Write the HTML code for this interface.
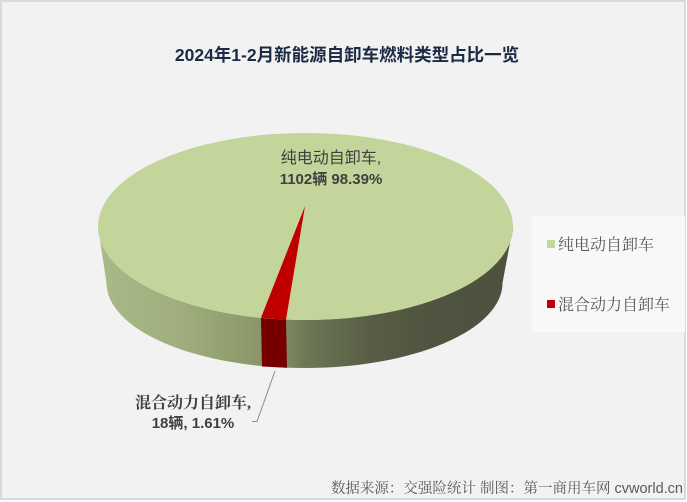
<!DOCTYPE html>
<html>
<head>
<meta charset="utf-8">
<style>
  html, body { margin:0; padding:0; background:#ffffff; }
  body { width:687px; height:502px; overflow:hidden; position:relative; }
  svg { position:absolute; left:0; top:0; }
</style>
</head>
<body>
<svg width="687" height="502" viewBox="0 0 687 502" xmlns="http://www.w3.org/2000/svg">
  <defs>
    <linearGradient id="side" gradientUnits="userSpaceOnUse" x1="98" y1="0" x2="513" y2="0">
      <stop offset="0" stop-color="#aab988"/>
      <stop offset="0.2" stop-color="#9fae7c"/>
      <stop offset="0.38" stop-color="#8c976a"/>
      <stop offset="0.46" stop-color="#7c8660"/>
      <stop offset="0.5" stop-color="#6e7756"/>
      <stop offset="0.66" stop-color="#575d45"/>
      <stop offset="0.8" stop-color="#4f5440"/>
      <stop offset="1" stop-color="#4d523f"/>
    </linearGradient>
  </defs>
  <!-- background with border -->
  <rect x="1" y="1" width="684" height="498" fill="#f2f2f2" stroke="#d9d9d9" stroke-width="2"/>

  <!-- title -->
  <text x="347" y="61" text-anchor="middle" font-family="'Liberation Sans','Noto Sans CJK SC',sans-serif" font-size="17.5" font-weight="bold" fill="#1c2b45">2024年1-2月新能源自卸车燃料类型占比一览</text>

  <!-- pie side -->
  <path d="M98,226.5 L106.5,283 A198,85 0 0 0 502.5,283 L513,226.5 A207.5,93.5 0 0 1 98,226.5 Z" fill="url(#side)"/>
  <!-- red side -->
  <path d="M261,317.8 L286,319.6 L287,367.7 L262,366.5 Z" fill="#760000"/>
  <!-- top face -->
  <ellipse cx="305.5" cy="226.5" rx="207.5" ry="93.5" fill="#c3d59b"/>
  <!-- red slice top -->
  <path d="M305,206 L261,317.8 A207.5,93.5 0 0 0 286,319.6 Z" fill="#c00000"/>

  <!-- top label -->
  <text x="331" y="163" text-anchor="middle" font-family="'Liberation Sans','Noto Sans CJK SC',sans-serif" font-size="16" fill="#404040">纯电动自卸车,</text>
  <text x="331" y="184" text-anchor="middle" font-family="'Liberation Sans','Noto Sans CJK SC',sans-serif" font-size="15" font-weight="bold" fill="#404040">1102辆 98.39%</text>

  <!-- leader line -->
  <polyline points="252,421.5 257,421.5 275,371" fill="none" stroke="#8c8c8c" stroke-width="1"/>

  <!-- bottom label -->
  <text x="193" y="408" text-anchor="middle" font-family="'Liberation Serif','Noto Serif CJK SC',serif" font-size="16" font-weight="bold" fill="#404040">混合动力自卸车,</text>
  <text x="193" y="428" text-anchor="middle" font-family="'Liberation Sans','Noto Sans CJK SC',sans-serif" font-size="15" font-weight="bold" fill="#404040">18辆, 1.61%</text>

  <!-- legend -->
  <rect x="532" y="216" width="153" height="116" fill="#f8f8f8"/>
  <rect x="547" y="240" width="8" height="8" fill="#c3d69b"/>
  <text x="558" y="250" font-family="'Liberation Serif','Noto Serif CJK SC',serif" font-size="16" fill="#595959">纯电动自卸车</text>
  <rect x="547" y="300" width="8" height="8" fill="#c00000"/>
  <text x="558" y="310" font-family="'Liberation Serif','Noto Serif CJK SC',serif" font-size="16" fill="#595959">混合动力自卸车</text>

  <!-- source -->
  <text x="683" y="493" text-anchor="end" font-family="'Liberation Sans','Noto Serif CJK SC',serif" font-size="14.5" fill="#595959">数据来源：交强险统计 制图：第一商用车网 cvworld.cn</text>
</svg>
</body>
</html>
